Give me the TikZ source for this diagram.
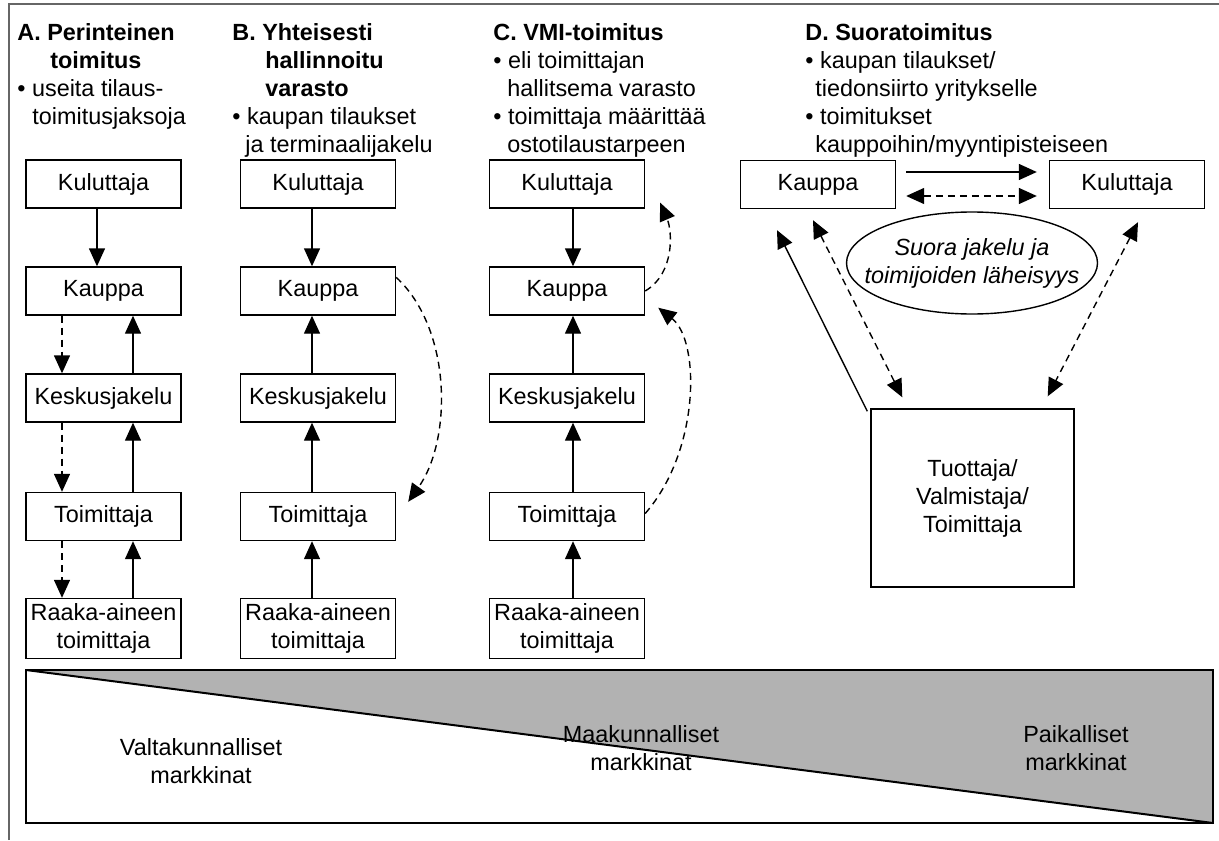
\documentclass[tikz,border=0pt]{standalone}
\usepackage{fontspec}
\setmainfont{Liberation Sans}
\usepackage{tikz}
\usetikzlibrary{arrows.meta}
\tikzstyle{box} = [rectangle, minimum width=77.5pt, minimum height=24pt, inner sep=1pt, text centered, align=center, draw=black, line width=0.7pt]
\tikzstyle{rbox} = [box, minimum height=30pt]
\tikzstyle{bigbox} = [box, minimum width=101.5pt, minimum height=89pt]
\tikzstyle{head} = [anchor=north west, inner sep=0pt, align=left]
\tikzstyle{arrow} = [line width=0.7pt, -{Triangle[length=9pt,width=8pt]}]
\tikzstyle{darrow} = [arrow, dash pattern=on 3.5pt off 2.5pt]
\tikzstyle{biarrow} = [darrow, {Triangle[length=9pt,width=8pt]}-{Triangle[length=9pt,width=8pt]}]

\begin{document}
\begin{tikzpicture}[x=0.5pt, y=-0.5pt, node distance=53.5pt, font=\fontsize{11.7}{14}\selectfont]
\useasboundingbox (0,0) rectangle (1219,840);
\draw [black!60, line width=0.8pt] (9,840) -- (9,4) -- (1219,4);

%% HEADINGS
\node (hA) [head] at (17,23) {\textbf{A. Perinteinen}\\ \hspace*{16.5pt}\textbf{toimitus}\\ \textbullet\ useita tilaus-\\ \hspace*{7.5pt}toimitusjaksoja};
\node (hB) [head] at (232,23) {\textbf{B. Yhteisesti}\\ \hspace*{16.5pt}\textbf{hallinnoitu}\\ \hspace*{16.5pt}\textbf{varasto}\\ \textbullet\ kaupan tilaukset\\ \hspace*{6.5pt}ja terminaalijakelu};
\node (hC) [head] at (493,23) {\textbf{C. VMI-toimitus}\\ \textbullet\ eli toimittajan\\ \hspace*{7pt}hallitsema varasto\\ \textbullet\ toimittaja määrittää\\ \hspace*{7pt}ostotilaustarpeen};
\node (hD) [head] at (805,23) {\textbf{D. Suoratoimitus}\\ \textbullet\ kaupan tilaukset/\\ \hspace*{5pt}tiedonsiirto yritykselle\\ \textbullet\ toimitukset\\ \hspace*{5pt}kauppoihin/myyntipisteiseen};

%% NODES A
\node (kulA) [box] at (103.5,184) {Kuluttaja};
\node (kauA) [box, below of=kulA] {Kauppa};
\node (kesA) [box, below of=kauA] {Keskusjakelu};
\node (toiA) [box, below of=kesA, yshift=-5.75pt] {Toimittaja};
\node (raaA) [rbox, below of=toiA, yshift=-2.5pt] {Raaka-aineen\\toimittaja};

%% NODES B
\node (kulB) [box] at (318,184) {Kuluttaja};
\node (kauB) [box, below of=kulB] {Kauppa};
\node (kesB) [box, below of=kauB] {Keskusjakelu};
\node (toiB) [box, below of=kesB, yshift=-5.75pt] {Toimittaja};
\node (raaB) [rbox, below of=toiB, yshift=-2.5pt] {Raaka-aineen\\toimittaja};

%% NODES C
\node (kulC) [box] at (567,184) {Kuluttaja};
\node (kauC) [box, below of=kulC] {Kauppa};
\node (kesC) [box, below of=kauC] {Keskusjakelu};
\node (toiC) [box, below of=kesC, yshift=-5.75pt] {Toimittaja};
\node (raaC) [rbox, below of=toiC, yshift=-2.5pt] {Raaka-aineen\\toimittaja};

%% NODES D
\node (kauD) [box] at (818,184.5) {Kauppa};
\node (kulD) [box, right of=kauD, node distance=154.5pt] {Kuluttaja};
\node (tuot) [bigbox] at (972.5,498) {Tuottaja/\\Valmistaja/\\Toimittaja};
\node (suora) [align=center, font=\fontsize{11.7}{14}\selectfont\itshape] at (972,263) {Suora jakelu ja\\toimijoiden läheisyys};
\draw [line width=0.7pt] (suora) ellipse [x radius=62.75pt, y radius=25.5pt];

%% ARROWS A
\draw [arrow] ([xshift=-3.25pt]kulA.south) -- ([xshift=-3.25pt]kauA.north);
\draw [darrow] ([xshift=-20.75pt]kauA.south) -- ([xshift=-20.75pt]kesA.north);
\draw [darrow] ([xshift=-20.75pt]kesA.south) -- ([xshift=-20.75pt]toiA.north);
\draw [darrow] ([xshift=-20.75pt]toiA.south) -- ([xshift=-20.75pt]raaA.north);
\draw [arrow] ([xshift=14.75pt]kesA.north) -- ([xshift=14.75pt]kauA.south);
\draw [arrow] ([xshift=14.75pt]toiA.north) -- ([xshift=14.75pt]kesA.south);
\draw [arrow] ([xshift=14.75pt]raaA.north) -- ([xshift=14.75pt]toiA.south);

%% ARROWS B
\draw [arrow] ([xshift=-3pt]kulB.south) -- ([xshift=-3pt]kauB.north);
\draw [arrow] ([xshift=-3pt]kesB.north) -- ([xshift=-3pt]kauB.south);
\draw [arrow] ([xshift=-3pt]toiB.north) -- ([xshift=-3pt]kesB.south);
\draw [arrow] ([xshift=-3pt]raaB.north) -- ([xshift=-3pt]toiB.south);
\draw [darrow] ([yshift=-5.5pt]kauB.north east) .. controls +(56,52) and +(44,-62) .. ([xshift=6pt,yshift=-5pt]toiB.north east);

%% ARROWS C
\draw [arrow] ([xshift=3pt]kulC.south) -- ([xshift=3pt]kauC.north);
\draw [arrow] ([xshift=3pt]kesC.north) -- ([xshift=3pt]kauC.south);
\draw [arrow] ([xshift=3pt]toiC.north) -- ([xshift=3pt]kesC.south);
\draw [arrow] ([xshift=3pt]raaC.north) -- ([xshift=3pt]toiC.south);
\draw [darrow] (kauC.east) .. controls +(30,-18) and +(12,28) .. ([xshift=7.5pt,yshift=3pt]kulC.south east);
\draw [darrow] ([yshift=1.5pt]toiC.east) .. controls +(55,-63) and +(42,33) .. ([xshift=6.5pt,yshift=4pt]kauC.south east);

%% ARROWS D
\draw [arrow] ([xshift=5pt,yshift=6.25pt]kauD.east) -- ([xshift=-6pt,yshift=6.25pt]kulD.west);
\draw [biarrow] ([xshift=5pt,yshift=-5.75pt]kauD.east) -- ([xshift=-6pt,yshift=-5.75pt]kulD.west);
\draw [arrow] ([xshift=-1.5pt,yshift=-1.5pt]tuot.north west) -- ([xshift=-20.5pt,yshift=-10.5pt]kauD.south);
\draw [biarrow] ([xshift=-2.5pt,yshift=-5.5pt]kauD.south) -- ([xshift=16pt,yshift=5.5pt]tuot.north west);
\draw [biarrow] ([xshift=5.5pt,yshift=-6.5pt]kulD.south) -- ([xshift=-13.5pt,yshift=6pt]tuot.north east);

%% MARKETS
\fill [black!30] (26,670) -- (1213,670) -- (1213,823) -- cycle;
\draw [line width=0.7pt] (26,670) rectangle (1213,823);
\draw [line width=1pt] (26,670) -- (1213,823);
\node (valt) [align=center] at (201,761) {Valtakunnalliset\\markkinat};
\node (maak) [align=center] at (641,748) {Maakunnalliset\\markkinat};
\node (paik) [align=center] at (1076,748) {Paikalliset\\markkinat};
\end{tikzpicture}
\end{document}
